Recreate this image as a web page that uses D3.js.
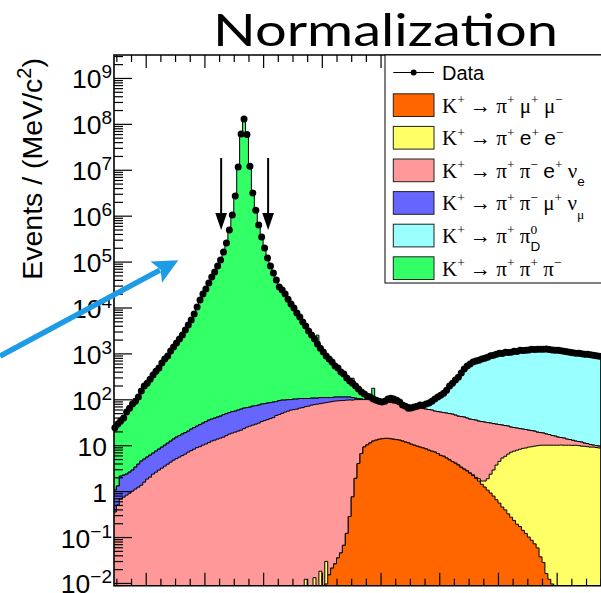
<!DOCTYPE html>
<html>
<head>
<meta charset="utf-8">
<script src="https://cdn.jsdelivr.net/npm/d3@7"></script>
<style>
  html, body { margin: 0; padding: 0; background: #fff; }
  svg { display: block; }
  text { white-space: pre; }
</style>
</head>
<body>
<svg id="chart" width="601" height="593"></svg>
<script>
// ---- Histograms: m(πππ) in 1 MeV/c² bins; each array starts at the lower edge given by its *Start ----
const binWidth = 1;

// Data, bins 449 … 614 MeV/c²
const dataStart = 449;
const dataCounts = [
  24,29,34,39,53,64,79,91,112,151,
  194,225,275,337,411,479,615,751,873,1122,
  1371,1675,2050,2506,3220,4140,5310,7180,10200,14500,
  19600,25200,34000,45900,59000,79800,108000,161000,253000,485000,
  1030000,2670000,11500000,60000000,127000000,59000000,12000000,3100000,1320000,624000,
  342000,197000,119000,79800,56100,39500,27800,23900,19600,15200,
  11900,9700,7550,6180,4810,3940,3060,2510,2050,1600,
  1300,1070,873,751,646,529,479,392,354,290,
  249,225,194,167,144,130,117,112,101,96,
  91,87,91,101,106,101,96,87,75,71,
  64,65,68,71,75,74,79,83,91,101,
  112,123,136,158,194,225,262,304,372,457,
  530,588,646,679,713,751,789,829,893,915,
  962,1010,1000,1060,1050,1065,1110,1100,1170,1160,
  1175,1190,1230,1220,1235,1225,1230,1240,1220,1190,
  1170,1165,1140,1110,1090,1060,1030,1010,1005,987,
  962,960,940,915,893,871
];

// K+ -> pi+ mu+ mu-
const pimumuStart = 521;
const pimumuCounts = [
  0.0095,0.015,0.021,0.026,0.035,0.045,0.066,0.12,0.28,0.75,
  1.9,4.0,6.6,9.2,10.2,11.2,12.3,12.9,13.5,13.8,
  14.1,14.1,13.8,13.5,13.2,12.9,12.3,11.7,11.2,10.5,
  10.0,9.5,9.1,8.7,8.3,7.8,7.4,7.1,6.6,6.0,
  5.75,5.25,4.8,4.4,4.07,3.7,3.3,3.0,2.75,2.45,
  2.2,1.9,1.66,1.41,1.23,1.05,0.91,0.78,0.65,0.55,
  0.45,0.39,0.32,0.27,0.23,0.19,0.17,0.14,0.12,0.10,
  0.085,0.071,0.058,0.037,0.028,0.016,0.012,0.0095
];

// K+ -> pi+ e+ e-
const pieeStart = 514;
const pieeCounts = [
  0.012,0,0,0.013,0,0.018,0,0.02,
  0,0,0,0,0,0,0,0,0,0,
  0,0,0,0,0,0,0,0,0,0,
  0,0,0,0,0,0,0,0,0,0,
  0,0,0,0,0,0,0,0,
  0.012,0.013,0.015,0.017,0.02,0.022,0.025,0.03,0.035,0.04,
  0.05,0.07,0.1,0.2,0.25,0.43,0.81,1.43,2.1,3.05,
  3.9,4.8,5.36,6.1,6.8,7.2,7.6,8.0,8.4,8.6,
  9.0,9.2,9.5,9.7,9.95,10.0,10.0,10.0,10.0,10.0,
  10.0,10.1,10.0,10.0,10.0,9.9,10.0,9.8,9.55,9.5,
  9.3,9.1,9.1,8.9,8.7
];

// K+ -> pi+ pi- e+ nu_e
const pipienuStart = 449;
const pipienuCounts = [
  0.35,0.50,0.67,0.74,0.82,0.90,1.0,1.11,1.22,1.35,
  1.57,1.83,2.02,2.35,2.59,2.87,3.17,3.51,3.87,4.28,
  4.73,5.1,5.51,5.93,6.4,7.08,7.62,8.22,8.87,9.31,
  10.05,10.6,11.4,12.3,12.9,13.6,14.3,15.0,16.2,17.5,
  18.4,19.3,20.3,21.3,23.0,24.8,26.1,27.4,28.8,30.3,
  32.7,34.4,36.1,38.0,39.9,44.5,46.5,49.5,52.6,55.3,
  58.2,59.7,61.1,64.3,65.9,69.3,71.1,74.8,76.7,78.6,
  80.5,82.6,84.7,86.9,89.1,91.4,92.5,93.7,94.5,96.0,
  96.5,95.4,96.4,94.6,92.0,89.4,88.5,87.3,83.8,83.2,
  80.2,77.6,75.0,72.8,70.9,69.1,67.3,65.7,64.4,63.1,
  61.8,60.6,57.6,56.5,55.2,54.0,52.8,51.9,50.8,48.2,
  47.4,46.6,45.6,44.8,44.0,43.2,41.2,39.3,38.7,38.0,
  36.2,34.5,33.9,33.2,31.6,31.0,30.2,29.2,28.0,26.6,
  25.1,23.7,22.2,21.0,19.7,17.7,16.8,15.8,14.8,13.9,
  13.2,12.2,11.5,10.7,9.5,8.8,8.4,7.5,7.1,6.2,
  5.8,5.0,4.6,4.3,3.6,3.3,2.9,2.3,2.2,2.15,
  1.6,1.5,1.2,0.95,0.9,0.85
];

// K+ -> pi+ pi- mu+ nu_mu
const pipimunuStart = 449;
const pipimunuCounts = [
  0.70,0.79,1.45,1.49,1.53,1.69,1.87,2.22,2.65,3.16,
  3.41,3.68,4.06,4.38,4.84,5.35,5.9,6.5,7.2,8.0,
  8.9,9.9,10.7,11.6,12.4,13.2,14.8,16.0,17.2,18.8,
  20.3,22.1,23.8,24.7,26.0,27.4,28.7,31.4,32.6,33.8,
  35.6,36.0,37.9,39.8,41.3,41.1,41.5,43.7,44.1,44.5,
  45.9,46.1,46.5,46.7,47.0,44.6,47.2,46.6,43.5,43.2,
  40.3,41.3,39.9,39.7,38.1,34.7,32.9,31.2,29.3,27.4,
  28.5,26.4,24.3,22.1,19.9,20.6,19.5,18.3,17.4,15.9,
  15.2,12.9,7.5,5.5,2.5,0.5
];

// K+ -> pi+ pi0_D
const pipi0DStart = 537;
const pipi0DCounts = [
  0.5,0.8,1,1,1.2,1.5,1.5,2,2,2,
  2.5,2.5,2.5,3,3.5,5,10.5,12,17.5,23,
  33,46,58,70,85,108,145,177,217,261,
  330,416,491,551,610,644,680,718,757,798,
  863,886,933,982,983,1034,1034,1035,1086,1087,
  1147,1148,1148,1170,1210,1210,1211,1211,1212,1212,
  1213,1174,1154,1155,1125,1096,1076,1047,1017,998,
  998,975,951,951,929,905,883,861
];

// K+ -> pi+ pi+ pi-
const pipipiStart = 449;
const pipipiCounts = [
  22.5,27.5,31.4,36.7,50.2,61.7,75.7,88,108,146,
  189,220,269,330,404,471,606,741,862,1110,
  1357,1660,2033,2488,3202,4120,5290,7156,10174,14470,
  19570,25170,33960,45860,58960,79760,107960,160950,252950,484950,
  1030000,2670000,11500000,60000000,127000000,59000000,12000000,3100000,1320000,624000,
  342000,197000,119000,79700,56000,39400,27700,23800,19500,15100,
  11800,9600,7450,6080,4710,3840,2960,2400,1940,2390,
  1190,960,764,642,537,417,367,280,242,178,
  150,179,88,63,43,31.5,18.5,13.5,78,2,3
];

// Legend labels (ROOT-style markup), stacking order bottom -> top
const stackLabels = [
  "K^{+} → π^{+} μ^{+} μ^{−}",
  "K^{+} → π^{+} e^{+} e^{−}",
  "K^{+} → π^{+} π^{−} e^{+} ν_{e}",
  "K^{+} → π^{+} π^{−} μ^{+} ν_{μ}",
  "K^{+} → π^{+} π^{0}_{D}",
  "K^{+} → π^{+} π^{+} π^{−}"
];
const stackColors = ["#ff6600", "#ffff66", "#ff9999", "#6666ff", "#99ffff", "#33ff66"];

// Y axis decades and their labels
const yTickValues = [1e-2, 1e-1, 1, 10, 1e2, 1e3, 1e4, 1e5, 1e6, 1e7, 1e8, 1e9];
const yTickLabels = ["10^{−2}", "10^{−1}", "1", "10", "10^{2}", "10^{3}", "10^{4}",
                     "10^{5}", "10^{6}", "10^{7}", "10^{8}", "10^{9}"];
const xMajorTicks = [460, 480, 500, 520, 540, 560, 580, 600];

// Selection window markers (MeV/c²) and their vertical extent (events)
const cutPositions = [485.7, 501.7];
const cutArrowFrom = 1.8e7;
const cutArrowTo = 4.9e5;

// Call-out arrow, in (MeV/c², events)
const calloutTail = [410.4, 870];
const calloutTip = [471.1, 1.07e5];

// ---------------------------------------------------------------------------
const svg = d3.select("#chart");
const W = 601, H = 593;
const frame = { left: 114, top: 55, right: 601, bottom: 585.7 };

svg.append("rect").attr("width", W).attr("height", H).attr("fill", "#fff");

const x = d3.scaleLinear().domain([449.2, 615.1]).range([frame.left, frame.right]);
const yMin = Math.pow(10, -2.06), yMax = Math.pow(10, 9.5);
const y = d3.scaleLog().domain([yMin, yMax]).range([frame.bottom, frame.top]).clamp(true);
const yv = v => (v > yMin ? y(v) : frame.bottom);

const nBins = dataCounts.length;
const firstEdge = dataStart;

function expand(start, values) {
  const out = new Array(nBins).fill(0);
  values.forEach((v, i) => {
    const k = start - firstEdge + i;
    if (k >= 0 && k < nBins) out[k] = v;
  });
  return out;
}

const stackInputs = [
  expand(pimumuStart, pimumuCounts),
  expand(pieeStart, pieeCounts),
  expand(pipienuStart, pipienuCounts),
  expand(pipimunuStart, pipimunuCounts),
  expand(pipi0DStart, pipi0DCounts),
  expand(pipipiStart, pipipiCounts)
];

// cumulative stack
const cumulative = [];
stackInputs.forEach((arr, k) => {
  cumulative.push(arr.map((v, i) => v + (k > 0 ? cumulative[k - 1][i] : 0)));
});

const defs = svg.append("defs");
defs.append("clipPath").attr("id", "plotClip")
  .append("rect")
  .attr("x", frame.left).attr("y", frame.top)
  .attr("width", frame.right - frame.left).attr("height", frame.bottom - frame.top);

const stepArea = d3.area()
  .x(d => x(d.edge))
  .y0(frame.bottom)
  .y1(d => yv(d.value))
  .curve(d3.curveStepAfter);

function edgesFor(values) {
  const pts = values.map((v, i) => ({ edge: firstEdge + i * binWidth, value: v }));
  pts.push({ edge: firstEdge + values.length * binWidth, value: values[values.length - 1] });
  return pts;
}

const histG = svg.append("g").attr("clip-path", "url(#plotClip)");
for (let k = cumulative.length - 1; k >= 0; k--) {
  histG.append("path")
    .attr("d", stepArea(edgesFor(cumulative[k])))
    .attr("fill", stackColors[k])
    .attr("stroke", "#000")
    .attr("stroke-width", 1)
    .attr("stroke-linejoin", "miter");
}

// data points with statistical error bars
const dataG = svg.append("g");
const dataPts = dataCounts.map((c, i) => ({ m: dataStart + (i + 0.5) * binWidth, c }));
dataG.selectAll("line.err").data(dataPts).join("line")
  .attr("class", "err")
  .attr("x1", d => x(d.m)).attr("x2", d => x(d.m))
  .attr("y1", d => yv(d.c + Math.sqrt(d.c)))
  .attr("y2", d => yv(Math.max(d.c - Math.sqrt(d.c), yMin)))
  .attr("stroke", "#000").attr("stroke-width", 1);
dataG.selectAll("circle").data(dataPts).join("circle")
  .attr("cx", d => x(d.m)).attr("cy", d => yv(d.c))
  .attr("r", 3.5).attr("fill", "#000");

// ---- axes (ticks pointing into the frame) ----
const axG = svg.append("g");
const yMinor = [];
for (let e = -3; e <= 9; e++) {
  for (let k = 2; k <= 9; k++) {
    const v = k * Math.pow(10, e);
    if (v > yMin && v < yMax) yMinor.push(v);
  }
}
axG.append("g").attr("transform", `translate(${frame.left},0)`)
  .call(d3.axisRight(y).tickValues(yTickValues).tickSize(18).tickFormat(""))
  .call(g => g.select(".domain").remove());
axG.append("g").attr("transform", `translate(${frame.left},0)`)
  .call(d3.axisRight(y).tickValues(yMinor).tickSize(9).tickFormat(""))
  .call(g => g.select(".domain").remove());

const xMinor = [];
for (let m = 450; m <= 615; m += 5) if (!xMajorTicks.includes(m)) xMinor.push(m);

[[frame.top, d3.axisBottom], [frame.bottom, d3.axisTop]].forEach(([yy, axisFn]) => {
  axG.append("g").attr("transform", `translate(0,${yy})`)
    .call(axisFn(x).tickValues(xMajorTicks).tickSize(13).tickFormat(""))
    .call(g => g.select(".domain").remove());
  axG.append("g").attr("transform", `translate(0,${yy})`)
    .call(axisFn(x).tickValues(xMinor).tickSize(7).tickFormat(""))
    .call(g => g.select(".domain").remove());
});
axG.selectAll(".tick line").attr("stroke", "#000").attr("stroke-width", 1.2);

// frame
axG.append("path")
  .attr("d", `M${frame.right},${frame.top}H${frame.left}V${frame.bottom}H${frame.right}`)
  .attr("fill", "none").attr("stroke", "#000").attr("stroke-width", 1.6);

// ---- text with ^{} / _{} markup ----
function parseTex(s) {
  const out = [];
  let i = 0;
  while (i < s.length) {
    const c = s[i];
    if ((c === "^" || c === "_") && s[i + 1] === "{") {
      const j = s.indexOf("}", i);
      out.push({ t: s.slice(i + 2, j), mode: c === "^" ? "sup" : "sub" });
      i = j + 1;
    } else {
      let j = i;
      while (j < s.length && !((s[j] === "^" || s[j] === "_") && s[j + 1] === "{")) j++;
      out.push({ t: s.slice(i, j), mode: "base" });
      i = j;
    }
  }
  return out;
}

function drawTex(parent, s, o) {
  const text = parent.append("text")
    .attr("x", o.x).attr("y", o.y)
    .attr("font-size", o.size)
    .attr("text-anchor", o.anchor || "start")
    .attr("fill", "#000");
  if (o.transform) text.attr("transform", o.transform);
  let cur = 0, prev = null;
  parseTex(s).forEach(tok => {
    const target = tok.mode === "sup" ? -o.supShift : tok.mode === "sub" ? o.subShift : 0;
    const runs = [];
    for (const ch of tok.t) {
      const f = o.fontOf(ch);
      if (runs.length && runs[runs.length - 1].f === f) runs[runs.length - 1].t += ch;
      else runs.push({ t: ch, f });
    }
    let firstSpan = null;
    runs.forEach((r, k) => {
      const ts = text.append("tspan")
        .attr("font-family", r.f)
        .attr("font-size", tok.mode === "base" ? o.size : o.scriptSize)
        .text(r.t);
      if (k === 0) {
        if (target - cur) ts.attr("dy", target - cur);
        firstSpan = ts;
        if (tok.mode === "sub" && prev && prev.mode === "sup") {
          ts.attr("dx", -prev.node.getComputedTextLength());
        }
      }
    });
    cur = target;
    prev = { mode: tok.mode, node: firstSpan ? firstSpan.node() : null };
  });
  return text;
}

const SANS = "'Liberation Sans', Arial, Helvetica, sans-serif";
const SERIF = "'Liberation Serif', 'Times New Roman', serif";

// y tick labels
const labG = svg.append("g");
yTickValues.forEach((v, i) => {
  const plain = yTickLabels[i].indexOf("^") < 0;
  drawTex(labG, yTickLabels[i], {
    x: plain ? 107 : 112, y: y(v) + 10.5, size: 26.5, scriptSize: 19, supShift: 10, subShift: 0,
    anchor: "end", fontOf: () => SANS
  });
});

// y axis title
drawTex(labG, "Events / (MeV/c^{2})", {
  x: 0, y: 0, size: 28.5, scriptSize: 20, supShift: 11, subShift: 0,
  anchor: "end", fontOf: () => SANS,
  transform: `translate(42,58) rotate(-90)`
});

// ---- legend ----
const leg = svg.append("g");
const legBox = { x: 385, y: 55, w: 240, h: 228 };
leg.append("rect")
  .attr("x", legBox.x).attr("y", legBox.y).attr("width", legBox.w).attr("height", legBox.h)
  .attr("fill", "#fff").attr("stroke", "#000").attr("stroke-width", 1);

const rowY = i => 72.5 + i * 32.6;
const symX0 = 393.3, symX1 = 434, textX = 442;

leg.append("line").attr("x1", symX0).attr("x2", symX1)
  .attr("y1", rowY(0)).attr("y2", rowY(0)).attr("stroke", "#000").attr("stroke-width", 1);
leg.append("circle").attr("cx", (symX0 + symX1) / 2).attr("cy", rowY(0)).attr("r", 3).attr("fill", "#000");
leg.append("text").attr("x", textX).attr("y", rowY(0) + 7.2)
  .attr("font-family", SANS).attr("font-size", 20).text("Data");

const sansChars = new Set(["e", "D"]);
stackLabels.forEach((lab, k) => {
  const ry = rowY(k + 1);
  leg.append("rect")
    .attr("x", symX0).attr("y", ry - 11.3).attr("width", symX1 - symX0).attr("height", 22.7)
    .attr("fill", stackColors[k]).attr("stroke", "#222").attr("stroke-width", 1);
  drawTex(leg, lab, {
    x: textX, y: ry + 7.4, size: 21, scriptSize: 13.5, supShift: 8.5, subShift: 8.5,
    fontOf: ch => (sansChars.has(ch) ? SANS : SERIF)
  });
});

// ---- selection window markers ----
const cutG = svg.append("g");
cutPositions.forEach(m => {
  const xx = x(m), y0 = y(cutArrowFrom), y1 = y(cutArrowTo);
  const headH = 17, headW = 11.7;
  cutG.append("line").attr("x1", xx).attr("x2", xx).attr("y1", y0).attr("y2", y1 - headH + 1)
    .attr("stroke", "#000").attr("stroke-width", 2);
  cutG.append("path")
    .attr("d", `M${xx - headW / 2},${y1 - headH}L${xx + headW / 2},${y1 - headH}L${xx},${y1}Z`)
    .attr("fill", "#000");
});

// ---- call-out arrow ----
(function () {
  const tx = x(calloutTail[0]), ty = y(calloutTail[1]);
  const hx = x(calloutTip[0]), hy = y(calloutTip[1]);
  const dx = hx - tx, dy = hy - ty, len = Math.hypot(dx, dy);
  const ux = dx / len, uy = dy / len, nx = -uy, ny = ux;
  const L = 25, Wd = 24;
  const bx = hx - ux * L, by = hy - uy * L;
  const g = svg.append("g");
  g.append("line").attr("x1", tx).attr("y1", ty).attr("x2", bx + ux * 4).attr("y2", by + uy * 4)
    .attr("stroke", "#1e9be6").attr("stroke-width", 5.5);
  g.append("path")
    .attr("d", `M${hx},${hy}L${bx + nx * Wd / 2},${by + ny * Wd / 2}L${bx + ux * 5},${by + uy * 5}L${bx - nx * Wd / 2},${by - ny * Wd / 2}Z`)
    .attr("fill", "#1e9be6");
})();

// ---- title ----
svg.append("text")
  .attr("x", 213).attr("y", 46)
  .attr("font-family", "Lato, 'Open Sans', sans-serif")
  .attr("font-size", 45)
  .attr("textLength", 345)
  .attr("lengthAdjust", "spacingAndGlyphs")
  .attr("fill", "#000")
  .text("Normalization");
</script>
</body>
</html>
